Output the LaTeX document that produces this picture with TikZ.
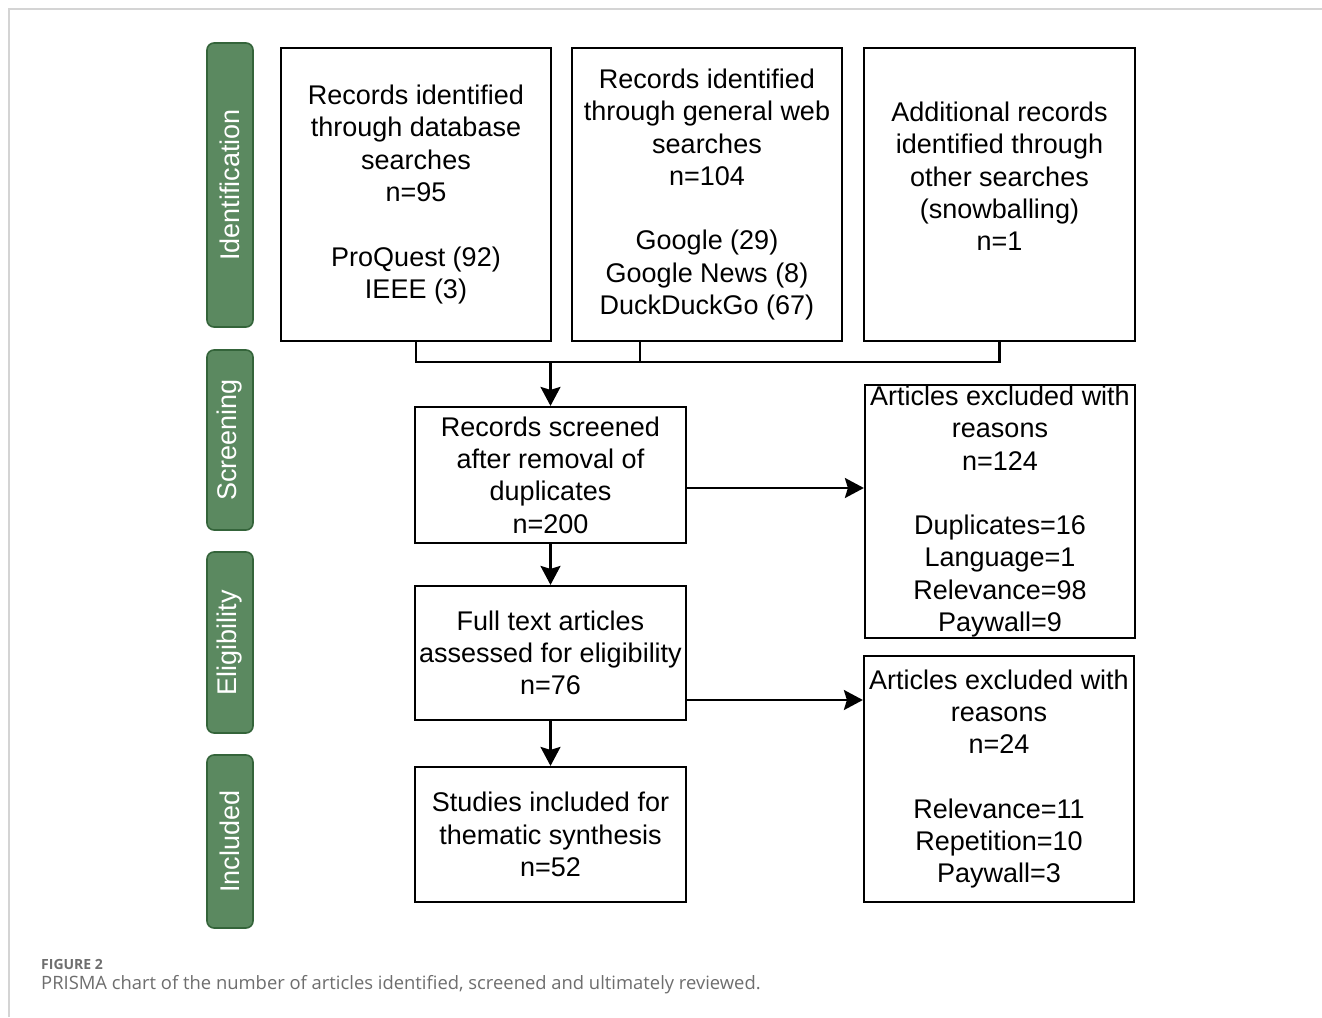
\documentclass[tikz,border=0pt]{standalone}
\usepackage{fontspec}
\setmainfont{Liberation Sans}
\newfontfamily\capfont{Open Sans}
\usetikzlibrary{arrows.meta}
\definecolor{phasefill}{RGB}{91,137,96}
\definecolor{phasedraw}{RGB}{52,100,58}
\definecolor{framegray}{RGB}{212,212,212}
\definecolor{capgray}{RGB}{110,110,110}
\newcommand{\boxfont}{\fontsize{27}{32.3}\selectfont}
\begin{document}
\begin{tikzpicture}[x=1pt,y=-1pt,
  box/.style={draw, line width=2.2pt, inner sep=0pt, align=center, font=\boxfont},
  phase/.style={draw=phasedraw, fill=phasefill, line width=1.6pt, rounded corners=7pt,
    inner sep=0pt, text=white, font=\boxfont, rotate=90, minimum height=46pt},
  conn/.style={line width=2.2pt},
  arr/.style={line width=2.2pt, -{Stealth[length=19pt,width=20pt,inset=3pt]}}
]
\useasboundingbox (0,0) rectangle (1322,1017);
\fill[white] (0,0) rectangle (1322,1017);
% frame
\draw[framegray, line width=1.5pt] (9,1017) -- (9,9) -- (1322,9);

% phases
\node[phase, minimum width=284pt] (pid) at (230,185) {Identification};
\node[phase, minimum width=180pt] (pscr) at (230,440) {Screening};
\node[phase, minimum width=181pt] (pel) at (230,642.5) {Eligibility};
\node[phase, minimum width=173pt] (pinc) at (230,841.5) {Included};

% boxes
\node[box, minimum width=270pt, minimum height=293pt] (db) at (416,194.5)
  {Records identified\\through database\\searches\\n=95\\[32.3pt]ProQuest (92)\\IEEE (3)};
\node[box, minimum width=270pt, minimum height=293pt] (web) at (707,194.5)
  {Records identified\\through general web\\searches\\n=104\\[32.3pt]Google (29)\\Google News (8)\\DuckDuckGo (67)};
\node[box, minimum width=271pt, minimum height=293pt] (other) at (999.5,194.5)
  {Additional records\\identified through\\other searches\\(snowballing)\\n=1\\[-6pt]\strut};
\node[box, minimum width=271pt, minimum height=136pt] (scr) at (550.5,475)
  {Records screened\\after removal of\\duplicates\\n=200};
\node[box, minimum width=270pt, minimum height=253pt] (ex1) at (1000,511.5)
  {Articles excluded with\\reasons\\n=124\\[32.3pt]Duplicates=16\\Language=1\\Relevance=98\\Paywall=9};
\node[box, minimum width=271pt, minimum height=134pt] (full) at (550.5,653)
  {Full text articles\\assessed for eligibility\\n=76};
\node[box, minimum width=270pt, minimum height=246pt] (ex2) at (999,779)
  {Articles excluded with\\reasons\\n=24\\[32.3pt]Relevance=11\\Repetition=10\\Paywall=3};
\node[box, minimum width=271pt, minimum height=135pt] (inc) at (550.5,834.5)
  {Studies included for\\thematic synthesis\\n=52};

% connectors
\coordinate (jl) at (db.south |- 0,362);
\coordinate (jr) at (other.south |- 0,362);
\coordinate (wtop) at (web.south -| 640,0);
\coordinate (wbot) at (640,362);
\coordinate (jd) at (scr.north |- 0,362);
\draw[conn] (db.south) -- (jl) -- (jr) -- (other.south);
\draw[conn] (wtop) -- (wbot);
\draw[arr] (jd) -- (scr.north);
\draw[arr] (scr.east |- 0,488) -- (ex1.west |- 0,488);
\draw[arr] (scr.south) -- (full.north);
\draw[arr] (full.east |- 0,700) -- (ex2.west |- 0,700);
\draw[arr] (full.south) -- (inc.north);

% caption
\node[anchor=base west, inner sep=0pt, text=capgray, font={\capfont\bfseries\fontsize{14}{16}\selectfont}] (figlab) at (41,969) {FIGURE 2};
\node[anchor=base west, inner sep=0pt, text=capgray, font={\capfont\fontsize{18.4}{21}\selectfont}] (figcap) at (41,989)
  {PRISMA chart of the number of articles identified, screened and ultimately reviewed.};
\end{tikzpicture}
\end{document}
